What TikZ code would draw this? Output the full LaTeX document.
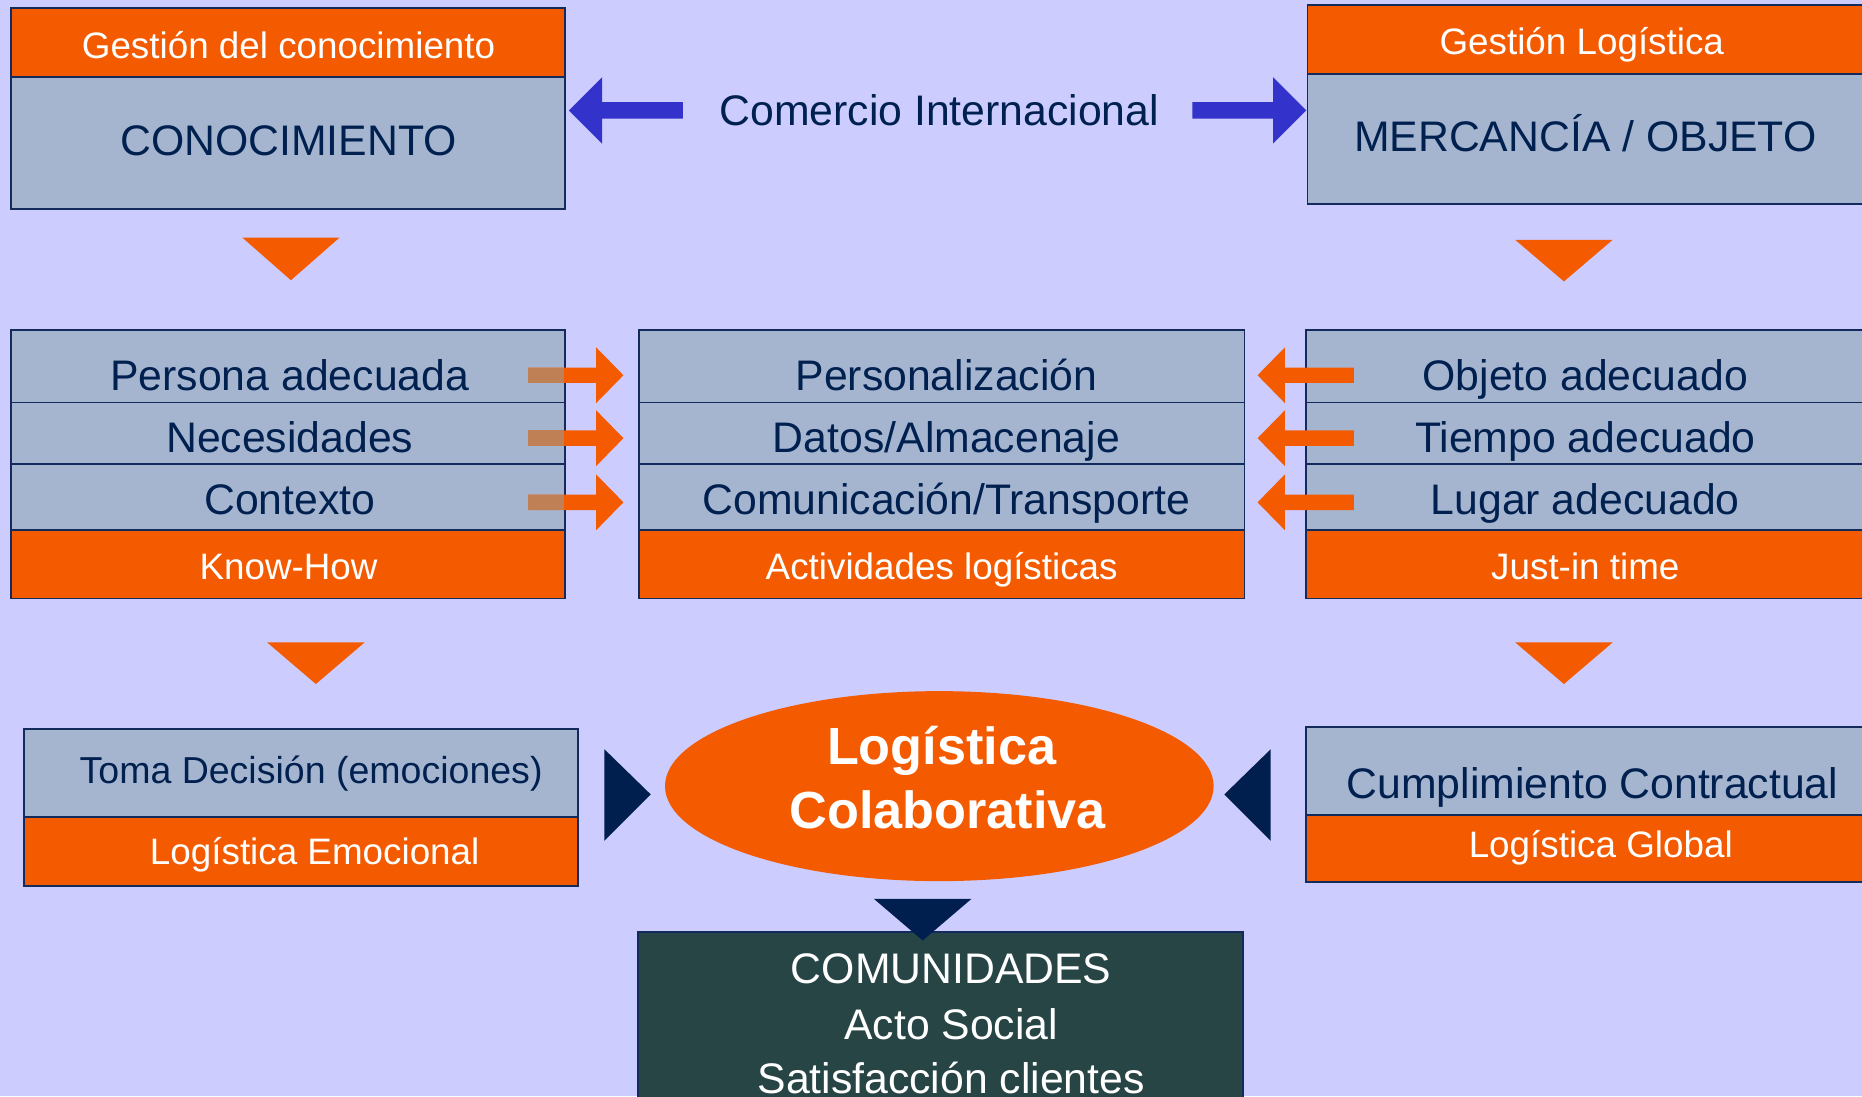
\documentclass[tikz,border=0pt]{standalone}
\usepackage{fontspec}
\setmainfont{Liberation Sans}
\usetikzlibrary{shapes.geometric}
\definecolor{bgc}{HTML}{CCCCFF}
\definecolor{orc}{HTML}{F45A00}
\definecolor{greyc}{HTML}{A6B5CF}
\definecolor{navyc}{HTML}{002050}
\definecolor{bordc}{HTML}{132A5C}
\definecolor{bluec}{HTML}{3333CC}
\definecolor{brownc}{HTML}{C08055}
\definecolor{slatec}{HTML}{284546}
\definecolor{darknav}{HTML}{001E4E}
\begin{document}
\begin{tikzpicture}[x=1pt,y=-1pt,
  cell/.style={draw=bordc, line width=1.5pt, inner sep=0pt, outer sep=0pt, anchor=north west},
  gcell/.style={cell, fill=greyc},
  ocell/.style={cell, fill=orc},
  scell/.style={cell, fill=slatec},
  ntxt/.style={text=navyc, inner sep=0pt, anchor=base, font=\fontsize{36}{40}\selectfont},
  nstxt/.style={text=navyc, inner sep=0pt, anchor=base, font=\fontsize{31.6}{36}\selectfont},
  wtxt/.style={text=white, inner sep=0pt, anchor=base, font=\fontsize{31}{36}\selectfont},
  wbtxt/.style={text=white, inner sep=0pt, anchor=base, font=\fontsize{36}{40}\selectfont},
  btxt/.style={text=white, inner sep=0pt, anchor=base, font=\fontsize{44}{48}\selectfont\bfseries},
  tri/.style={fill=orc},
  ntri/.style={fill=darknav}
]
\clip (0,0) rectangle (1568,923);
\fill[bgc] (0,0) rectangle (1568,923);

% top boxes
\node[ocell, minimum width=467, minimum height=58] (gc) at (9,7) {};
\node[gcell, minimum width=467, minimum height=111] (con) at (9,65) {};
\node[ocell, minimum width=470, minimum height=58] (gl) at (1101,4) {};
\node[gcell, minimum width=470, minimum height=110] (mer) at (1101,62) {};
\node[wtxt] (tgc) at (243,49) {Gestión del conocimiento};
\node[ntxt] (tcon) at (243,131) {CONOCIMIENTO};
\node[wtxt] (tgl) at (1332,46) {Gestión Logística};
\node[ntxt] (tmer) at (1335,128) {MERCANCÍA / OBJETO};
\node[ntxt] (ci) at (791,106) {Comercio Internacional};

% blue arrows
\fill[bluec] (575,86) -- (507,86) -- (507,65) -- (479,93) -- (507,121) -- (507,100) -- (575,100) -- cycle;
\fill[bluec] (1004,86) -- (1072,86) -- (1072,65) -- (1100,93) -- (1072,121) -- (1072,100) -- (1004,100) -- cycle;

% orange down triangles
\fill[tri] (204,200) -- (286,200) -- (245,236) -- cycle;
\fill[tri] (1276,202) -- (1358,202) -- (1317,237) -- cycle;
\fill[tri] (225,541) -- (307,541) -- (266,576) -- cycle;
\fill[tri] (1276,541) -- (1358,541) -- (1317,576) -- cycle;

% middle rows
\node[gcell, minimum width=467, minimum height=61] (pa) at (9,278) {};
\node[gcell, minimum width=467, minimum height=52] (ne) at (9,339) {};
\node[gcell, minimum width=467, minimum height=55] (cx) at (9,391) {};
\node[ocell, minimum width=467, minimum height=58] (kh) at (9,446) {};
\node[gcell, minimum width=510, minimum height=61] (pe) at (538,278) {};
\node[gcell, minimum width=510, minimum height=52] (da) at (538,339) {};
\node[gcell, minimum width=510, minimum height=55] (ct) at (538,391) {};
\node[ocell, minimum width=510, minimum height=58] (al) at (538,446) {};
\node[gcell, minimum width=470, minimum height=61] (oa) at (1100,278) {};
\node[gcell, minimum width=470, minimum height=52] (ta) at (1100,339) {};
\node[gcell, minimum width=470, minimum height=55] (la) at (1100,391) {};
\node[ocell, minimum width=470, minimum height=58] (jt) at (1100,446) {};

\node[ntxt] (tpa) at (244,329) {Persona adecuada};
\node[ntxt] (tne) at (244,381) {Necesidades};
\node[ntxt] (tcx) at (244,433) {Contexto};
\node[wtxt] (tkh) at (243,488) {Know-How};
\node[ntxt] (tpe) at (797,329) {Personalización};
\node[ntxt] (tda) at (797,381) {Datos/Almacenaje};
\node[ntxt] (tct) at (797,433) {Comunicación/Transporte};
\node[wtxt] (tal) at (793,488) {Actividades logísticas};
\node[ntxt] (toa) at (1335,329) {Objeto adecuado};
\node[ntxt] (tta) at (1335,381) {Tiempo adecuado};
\node[ntxt] (tla) at (1335,433) {Lugar adecuado};
\node[wtxt] (tjt) at (1335,488) {Just-in time};

% orange side arrows
\foreach \c in {316,369,423} {
  \fill[orc] (445,\c-6.5) -- (502,\c-6.5) -- (502,\c-23.5) -- (525,\c) -- (502,\c+23.5) -- (502,\c+6.5) -- (445,\c+6.5) -- cycle;
  \fill[brownc] (445,\c-6.5) rectangle (475.2,\c+6.5);
  \fill[orc] (1140,\c-6.5) -- (1082,\c-6.5) -- (1082,\c-23.5) -- (1059,\c) -- (1082,\c+23.5) -- (1082,\c+6.5) -- (1140,\c+6.5) -- cycle;
}

% lower boxes
\node[gcell, minimum width=467, minimum height=74] (td) at (20,614) {};
\node[ocell, minimum width=467, minimum height=58] (le) at (20,688) {};
\node[nstxt] (ttd) at (262,660) {Toma Decisión (emociones)};
\node[wtxt] (tle) at (265,728) {Logística Emocional};

\node[gcell, minimum width=470, minimum height=74] (cc) at (1100,612) {};
\node[ocell, minimum width=470, minimum height=57] (lg) at (1100,686) {};
\node[ntxt] (tcc) at (1341,672) {Cumplimiento Contractual};
\node[wtxt, font=\fontsize{31}{35}\selectfont] (tlg) at (1348,722) {Logística Global};

% ellipse
\node[ellipse, fill=orc, minimum width=462, minimum height=160, inner sep=0pt] (lc) at (791,662) {};
\node[btxt] (tl1) at (793,644) {Logística};
\node[btxt] (tl2) at (798,698) {Colaborativa};

% navy triangles
\fill[ntri] (509,631) -- (548,669) -- (509,708) -- cycle;
\fill[ntri] (1070,631) -- (1031,669) -- (1070,708) -- cycle;

% bottom box
\node[scell, minimum width=510, minimum height=200] (com) at (537,785) {};
\fill[ntri] (736,757) -- (818,757) -- (777,792) -- cycle;
\node[wbtxt] (tcom) at (801,828) {COMUNIDADES};
\node[wbtxt] (tas) at (801,875) {Acto Social};
\node[wbtxt] (tsc) at (801,921) {Satisfacción clientes};
\end{tikzpicture}
\end{document}
